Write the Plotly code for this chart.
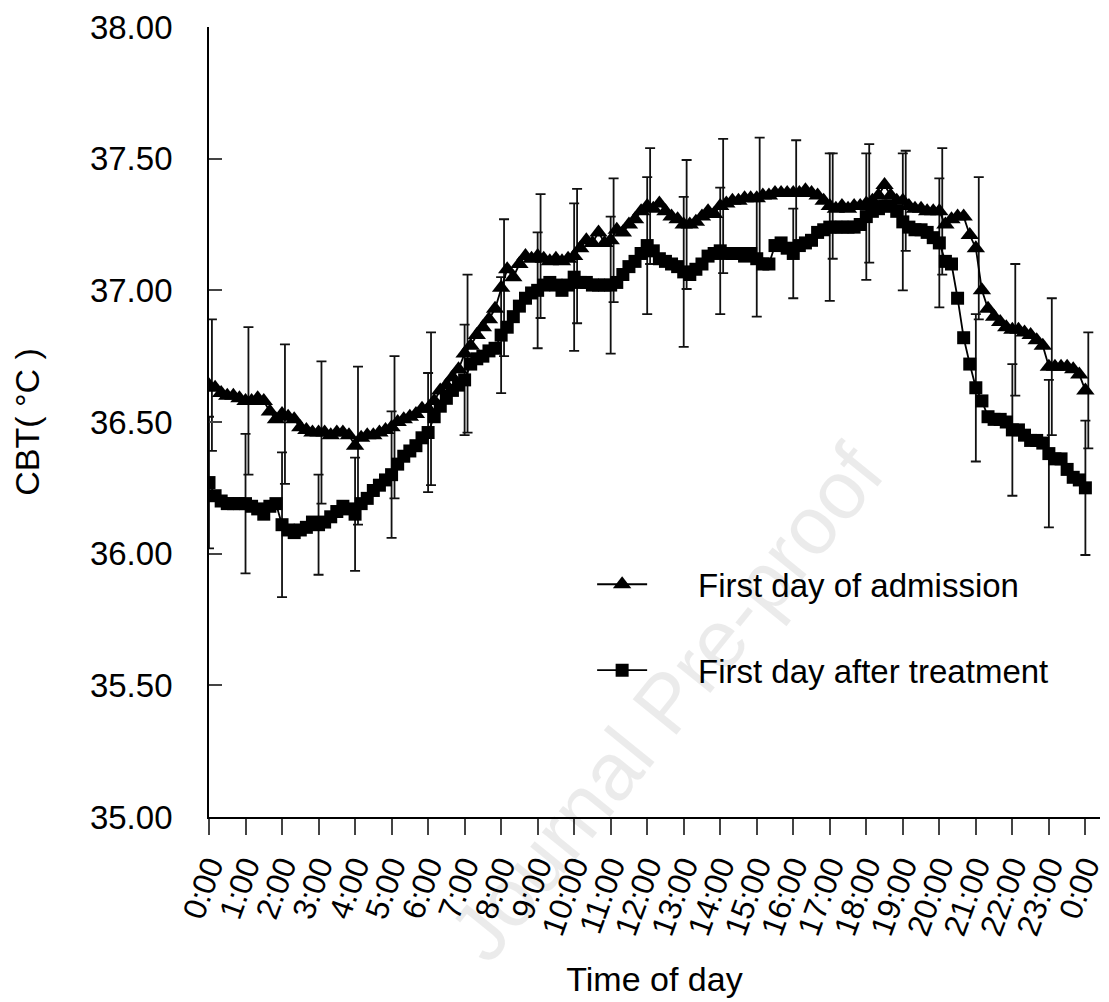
import plotly.graph_objects as go

# ---- data (10-minute samples, 0:00 .. 24:00) ----
adm = [
    36.64, 36.63, 36.61, 36.60, 36.60, 36.59,
    36.58, 36.58, 36.59, 36.58, 36.54, 36.51,
    36.53, 36.52, 36.51, 36.48, 36.47, 36.46,
    36.46, 36.46, 36.45, 36.46, 36.46, 36.45,
    36.41, 36.44, 36.45, 36.45, 36.46, 36.47,
    36.48, 36.50, 36.51, 36.52, 36.53, 36.55,
    36.55, 36.58, 36.62, 36.64, 36.67, 36.70,
    36.76, 36.79, 36.83, 36.86, 36.89, 36.93,
    37.01, 37.08, 37.05, 37.10, 37.13, 37.12,
    37.13, 37.12, 37.11, 37.12, 37.11, 37.12,
    37.13, 37.16, 37.19, 37.18, 37.22, 37.18,
    37.19, 37.23, 37.22, 37.25, 37.27, 37.30,
    37.32, 37.31, 37.33, 37.30, 37.28, 37.27,
    37.25, 37.25, 37.26, 37.28, 37.30, 37.29,
    37.32, 37.33, 37.34, 37.34, 37.35, 37.35,
    37.35, 37.36, 37.36, 37.37, 37.37, 37.37,
    37.37, 37.37, 37.38, 37.37, 37.36, 37.34,
    37.32, 37.31, 37.32, 37.31, 37.32, 37.32,
    37.33, 37.34, 37.36, 37.40, 37.36, 37.34,
    37.34, 37.32, 37.31, 37.31, 37.30, 37.30,
    37.30, 37.25, 37.27, 37.28, 37.28, 37.21,
    37.16, 37.00, 36.93, 36.90, 36.88, 36.86,
    36.85, 36.85, 36.84, 36.83, 36.81, 36.79,
    36.71, 36.71, 36.71, 36.71, 36.70, 36.68,
    36.62,
]
trt = [
    36.27, 36.22, 36.20, 36.19, 36.19, 36.19,
    36.19, 36.18, 36.17, 36.15, 36.18, 36.19,
    36.11, 36.09, 36.08, 36.09, 36.10, 36.12,
    36.11, 36.12, 36.14, 36.16, 36.18, 36.17,
    36.15, 36.19, 36.21, 36.24, 36.26, 36.28,
    36.30, 36.34, 36.37, 36.39, 36.41, 36.44,
    36.46, 36.52, 36.56, 36.59, 36.62, 36.64,
    36.66, 36.72, 36.74, 36.75, 36.77, 36.78,
    36.83, 36.86, 36.90, 36.94, 36.97, 36.99,
    37.00, 37.02, 37.03, 37.02, 37.00, 37.02,
    37.05, 37.03, 37.03, 37.02, 37.02, 37.02,
    37.02, 37.03, 37.06, 37.09, 37.11, 37.14,
    37.17, 37.15, 37.12, 37.11, 37.10, 37.09,
    37.07, 37.06, 37.08, 37.10, 37.13, 37.14,
    37.15, 37.14, 37.14, 37.14, 37.13, 37.14,
    37.12, 37.10, 37.10, 37.17, 37.18, 37.16,
    37.14, 37.17, 37.18, 37.19, 37.22, 37.23,
    37.24, 37.24, 37.24, 37.24, 37.24, 37.25,
    37.28, 37.30, 37.31, 37.32, 37.32, 37.30,
    37.26, 37.24, 37.23, 37.23, 37.22, 37.20,
    37.18, 37.11, 37.10, 36.97, 36.82, 36.72,
    36.63, 36.58, 36.52, 36.51, 36.51, 36.50,
    36.47, 36.47, 36.45, 36.43, 36.43, 36.42,
    36.38, 36.36, 36.36, 36.32, 36.29, 36.28,
    36.25,
]
# hourly standard deviations (0:00 .. 24:00)
adm_sd = [0.25, 0.28, 0.265, 0.27, 0.30, 0.27, 0.29, 0.30, 0.26, 0.235, 0.255, 0.235,
          0.22, 0.245, 0.255, 0.23, 0.20, 0.20, 0.225, 0.19, 0.24, 0.27, 0.25, 0.26, 0.22]
trt_sd = [0.25, 0.265, 0.275, 0.19, 0.215, 0.24, 0.226, 0.21, 0.22, 0.22, 0.28, 0.26,
          0.26, 0.285, 0.24, 0.22, 0.17, 0.28, 0.24, 0.26, 0.245, 0.28, 0.25, 0.28, 0.255]

hour_labels = ["0:00", "1:00", "2:00", "3:00", "4:00", "5:00", "6:00", "7:00", "8:00",
               "9:00", "10:00", "11:00", "12:00", "13:00", "14:00", "15:00", "16:00",
               "17:00", "18:00", "19:00", "20:00", "21:00", "22:00", "23:00", "0:00"]
y_ticks = [35.0, 35.5, 36.0, 36.5, 37.0, 37.5, 38.0]

name_adm = "First day of admission"
name_trt = "First day after treatment"

samples_per_hour = 6
times = [i / samples_per_hour for i in range(len(adm))]
hours = list(range(len(hour_labels)))
adm_hourly = adm[::samples_per_hour]
trt_hourly = trt[::samples_per_hour]

FONT = "Arial, Liberation Sans, sans-serif"
bar_shift = 0.08  # small horizontal separation of the two error-bar sets
GAP = "\u00a0" * 5

fig = go.Figure()

# error bars (hourly)
fig.add_trace(go.Scatter(
    x=hours, y=trt_hourly, mode="markers",
    marker=dict(size=1, color="rgba(0,0,0,0)"),
    error_y=dict(type="data", array=trt_sd, visible=True, color="#111111",
                 thickness=1.8, width=5),
    showlegend=False, hoverinfo="skip"))
fig.add_trace(go.Scatter(
    x=[h + bar_shift for h in hours], y=adm_hourly, mode="markers",
    marker=dict(size=1, color="rgba(0,0,0,0)"),
    error_y=dict(type="data", array=adm_sd, visible=True, color="#111111",
                 thickness=1.8, width=5),
    showlegend=False, hoverinfo="skip"))

# series
fig.add_trace(go.Scatter(
    x=times, y=adm, mode="lines+markers", name=GAP + name_adm, legendgroup="a",
    line=dict(color="black", width=1.8),
    marker=dict(symbol="triangle-up", size=16, color="black")))
fig.add_trace(go.Scatter(
    x=times, y=trt, mode="lines+markers", name=GAP + name_trt, legendgroup="b",
    line=dict(color="black", width=1.8),
    marker=dict(symbol="square", size=13, color="black")))

fig.update_layout(
    width=1109, height=1002,
    margin=dict(l=209, r=2, t=27, b=185),
    paper_bgcolor="white", plot_bgcolor="white",
    font=dict(family=FONT, size=33, color="black"),
    showlegend=True,
    legend=dict(x=0.43, y=0.33, xanchor="left", yanchor="top",
                bgcolor="rgba(0,0,0,0)", font=dict(size=33, family=FONT),
                traceorder="grouped", tracegroupgap=40, itemwidth=50),
    xaxis=dict(range=[0, 24.4], tickmode="array", tickvals=hours, ticktext=hour_labels,
               tickangle=-70, ticks="outside", ticklen=16, tickwidth=1.5,
               ticklabeloverflow="allow",
               showline=True, linecolor="black", linewidth=1.8,
               showgrid=False, zeroline=False,
               tickfont=dict(size=32, family=FONT),
               title=dict(text="Time of day", font=dict(size=34, family=FONT), standoff=28)),
    yaxis=dict(range=[35, 38], tickmode="array", tickvals=y_ticks, tickformat=".2f",
               ticks="inside", ticklen=13, tickwidth=1.5,
               showline=True, linecolor="black", linewidth=1.8,
               showgrid=False, zeroline=False, ticklabelstandoff=28,
               tickfont=dict(size=33, family=FONT),
               title=dict(text="CBT( \u00b0C )", font=dict(size=34, family=FONT), standoff=40)),
)

fig.add_annotation(text="Journal Pre-proof", xref="paper", yref="paper",
                   x=0.513, y=0.145, xanchor="center", yanchor="middle",
                   showarrow=False, textangle=-51,
                   font=dict(size=82, family=FONT, color="rgba(0,0,0,0.08)"))

fig.write_html("out.html")
